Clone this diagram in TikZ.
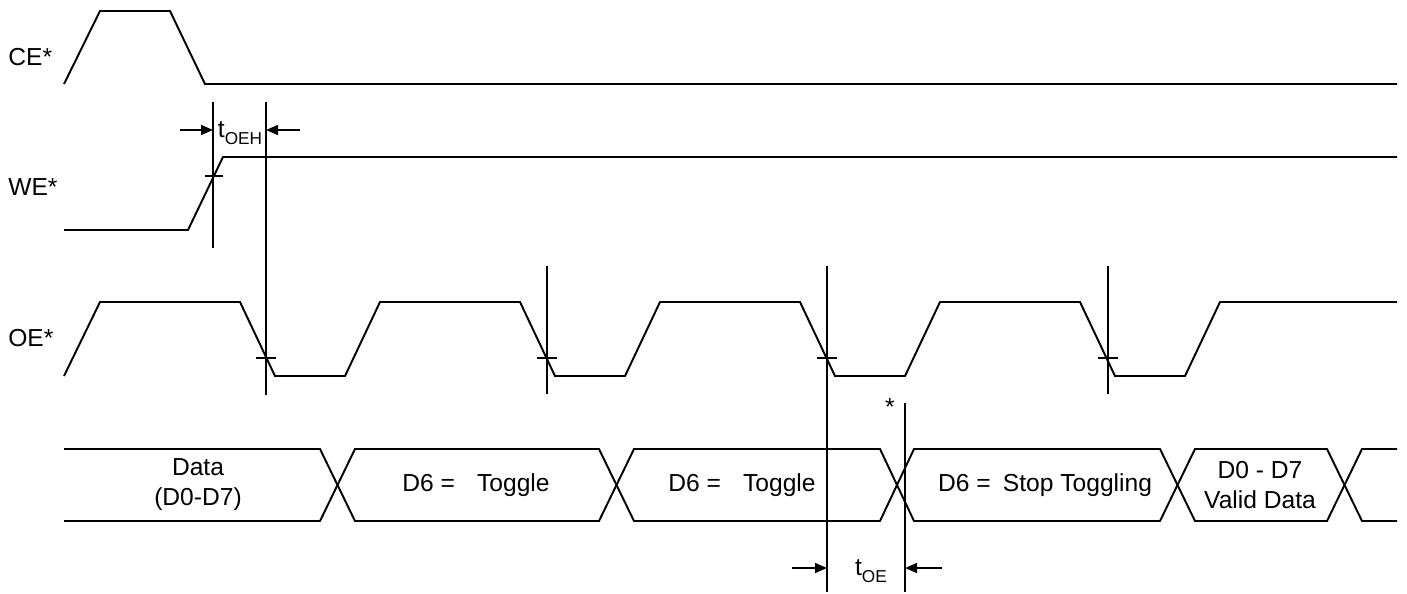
\documentclass[tikz,border=0pt]{standalone}
\usepackage{fontspec}
\setmainfont{Liberation Sans}
\usetikzlibrary{arrows.meta}
\newcommand{\tParam}[1]{t\raisebox{-0.55ex}{\fontsize{9.8}{10}\selectfont #1}}

\begin{document}
\begin{tikzpicture}[
			x=0.02cm, y=-0.02cm,
			sig/.style={line width=1.1pt, line join=miter},
			guide/.style={line width=0.9pt},
			dim/.style={line width=0.9pt, -{Triangle[length=2.4mm,width=2mm]}},
			lbl/.style={font=\fontsize{14}{17}\selectfont, inner sep=0pt, align=center},
		]
		\useasboundingbox (0,0) rectangle (1407,593);

		% signal names
		\node[lbl, anchor=west] (ce) at (8,57)  {CE*};
		\node[lbl, anchor=west] (we) at (8,187) {WE*};
		\node[lbl, anchor=west] (oe) at (8,338) {OE*};

		% waveforms
		\draw[sig] (64,84) -- (100,11) -- (170,11) -- (205,84) -- (1397,84);
		\draw[sig] (64,230) -- (188,230) -- (223,157) -- (1397,157);
		\draw[sig] (64,376) -- (100,302) foreach \k in {0,1,2,3} { -- ++(140,0) -- ++(35,74) -- ++(70,0) -- ++(35,-74) } -- (1397,302);

		% data bus
		\draw[sig] (64,449) -- (320,449) -- (355,521) -- (599,521) -- (634,449) -- (880,449) -- (914,521) -- (1160,521) -- (1195,449) -- (1327,449) -- (1362,521) -- (1397,521);
		\draw[sig] (64,521) -- (320,521) -- (355,449) -- (599,449) -- (634,521) -- (880,521) -- (914,449) -- (1160,449) -- (1195,521) -- (1327,521) -- (1362,449) -- (1397,449);

		\node[lbl] (data)  at (198,485)  {Data\\(D0-D7)};
		\node[lbl] (tgla)  at (476,485)  {D6 =\hspace{0.9em}Toggle};
		\node[lbl] (tglb)  at (742,485)  {D6 =\hspace{0.9em}Toggle};
		\node[lbl] (stop)  at (1045,485) {D6 =\hspace{0.5em}Stop Toggling};
		\node[lbl] (valid) at (1260,485) {D0 - D7\\Valid Data};

		% timing guides
		\foreach \name/\x/\ya/\yb in {wa/213/102/248, wb/266/102/395, ob/547/266/394, oc/827/266/592, oz/905/403/592, od/1108/266/394} {
			\coordinate (\name T) at (\x,\ya);
			\coordinate (\name B) at (\x,\yb);
			\draw[guide] (\name T) -- (\name B);
		}
		\draw[guide] (205,176) -- (223,176);
		\foreach \x in {266,547,827,1108}
			\draw[guide] (\x-10,358) -- (\x+10,358);

		\node[lbl] (star) at (890,407) {*};

		% t_OEH
		\coordinate (oehIn)  at (180,130);
		\coordinate (oehL)   at (213,130);
		\coordinate (oehOut) at (300,130);
		\coordinate (oehR)   at (266,130);
		\draw[dim] (oehIn) -- (oehL);
		\draw[dim] (oehOut) -- (oehR);
		\node[lbl] (toeh) at (240,133) {\tParam{OEH}};

		% t_OE
		\coordinate (oeIn)  at (792,568);
		\coordinate (oeL)   at (827,568);
		\coordinate (oeOut) at (942,568);
		\coordinate (oeR)   at (905,568);
		\draw[dim] (oeIn) -- (oeL);
		\draw[dim] (oeOut) -- (oeR);
		\node[lbl] (toe) at (871,571) {\tParam{OE}};

		\end{tikzpicture}
\end{document}
